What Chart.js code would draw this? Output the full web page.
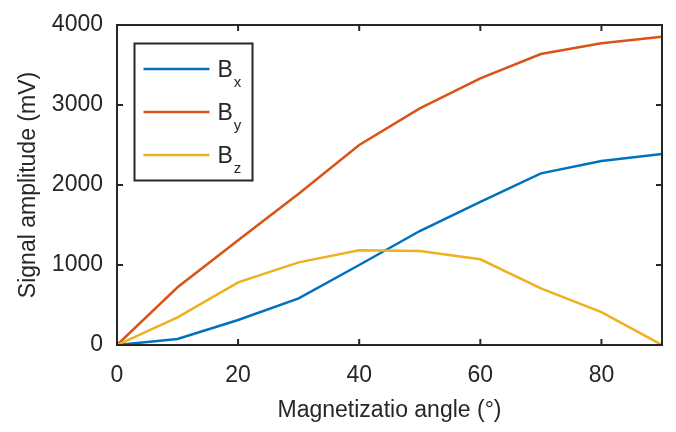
<!DOCTYPE html>
<html><head><meta charset="utf-8">
<script src="https://cdn.jsdelivr.net/npm/chart.js@4"></script>
<style>html,body{margin:0;padding:0;background:#fff}#wrap{width:676px;height:432px;position:relative}</style>
</head><body><div id="wrap"><canvas id="c"></canvas></div>
<script>
const angles = [0,10,20,30,40,50,60,70,80,90];
const bx = [0,75,312,583,1000,1425,1790,2146,2300,2387];
const by = [0,721,1310,1890,2500,2958,3333,3637,3771,3854];
const bz = [0,346,783,1033,1183,1175,1071,708,412,0];
const xTicks = [0,20,40,60,80];
const yTicks = [0,1000,2000,3000,4000];
const seriesNames = ['x','y','z'];
const colors = ['#0072BD','#D95319','#EDB120'];
const axisColor = '#262626';
const FONT = '"Liberation Sans", Arial, sans-serif';

const toPts = arr => arr.map((v,i)=>({x:angles[i],y:v}));

const frame = {
  id:'frame',
  afterDatasetsDraw(chart){
    const {ctx, chartArea:a, scales:{x,y}} = chart;
    ctx.save();
    ctx.strokeStyle = axisColor; ctx.lineWidth = 2;
    ctx.strokeRect(a.left, a.top, a.right-a.left, a.bottom-a.top);
    const tl = 6;
    ctx.beginPath();
    xTicks.forEach(v=>{const px=x.getPixelForValue(v);
      ctx.moveTo(px,a.bottom);ctx.lineTo(px,a.bottom-tl);
      ctx.moveTo(px,a.top);ctx.lineTo(px,a.top+tl);});
    yTicks.forEach(v=>{const py=y.getPixelForValue(v);
      ctx.moveTo(a.left,py);ctx.lineTo(a.left+tl,py);
      ctx.moveTo(a.right,py);ctx.lineTo(a.right-tl,py);});
    ctx.stroke();
    // legend
    const L=a.left+17.5, T=a.top+18.5, W=118, H=137;
    ctx.fillStyle='#fff'; ctx.fillRect(L,T,W,H);
    ctx.strokeRect(L,T,W,H);
    chart.data.datasets.forEach((ds,i)=>{
      const ry = T + 25.5 + i*43;
      ctx.strokeStyle = ds.borderColor; ctx.lineWidth = 2.5;
      ctx.beginPath(); ctx.moveTo(L+9,ry); ctx.lineTo(L+75,ry); ctx.stroke();
      ctx.fillStyle = axisColor; ctx.textBaseline='alphabetic'; ctx.textAlign='left';
      ctx.font = '23px '+FONT;
      ctx.fillText('B', L+83, ry+8);
      const w = ctx.measureText('B').width;
      ctx.font = '15px '+FONT;
      ctx.fillText(seriesNames[i], L+83+w+1, ry+18);
    });
    ctx.restore();
  }
};

new Chart(document.getElementById('c'), {
  type:'line',
  data:{datasets:[
    {label:'Bx',data:toPts(bx),borderColor:colors[0],order:3},
    {label:'By',data:toPts(by),borderColor:colors[1],order:2},
    {label:'Bz',data:toPts(bz),borderColor:colors[2],order:1}
  ].map(d=>Object.assign(d,{borderWidth:2.5,pointRadius:0,tension:0,fill:false}))},
  options:{
    responsive:true, maintainAspectRatio:false, animation:false,
    layout:{padding:{top:25,right:14,left:0,bottom:0}},
    plugins:{legend:{display:false},tooltip:{enabled:false}},
    scales:{
      x:{type:'linear',min:0,max:90,
        afterBuildTicks(s){s.ticks=xTicks.map(v=>({value:v}));},
        afterFit(s){s.height=87;s.paddingLeft=0;s.paddingRight=0;},
        grid:{display:false,drawTicks:false},border:{display:false},
        ticks:{color:axisColor,font:{family:FONT,size:23},padding:17,maxRotation:0,callback:v=>String(v)},
        title:{display:true,text:'Magnetizatio angle (°)',color:axisColor,font:{family:FONT,size:23},padding:{top:4,bottom:8}}
      },
      y:{type:'linear',min:0,max:4000,
        afterBuildTicks(s){s.ticks=yTicks.map(v=>({value:v}));},
        afterFit(s){s.width=117;s.paddingTop=0;s.paddingBottom=0;},
        grid:{display:false,drawTicks:false},border:{display:false},
        ticks:{color:axisColor,font:{family:FONT,size:23},padding:14,callback:v=>String(v)},
        title:{display:true,text:'Signal amplitude (mV)',color:axisColor,font:{family:FONT,size:23},padding:{top:15,bottom:4}}
      }
    }
  },
  plugins:[frame]
});
</script></body></html>
